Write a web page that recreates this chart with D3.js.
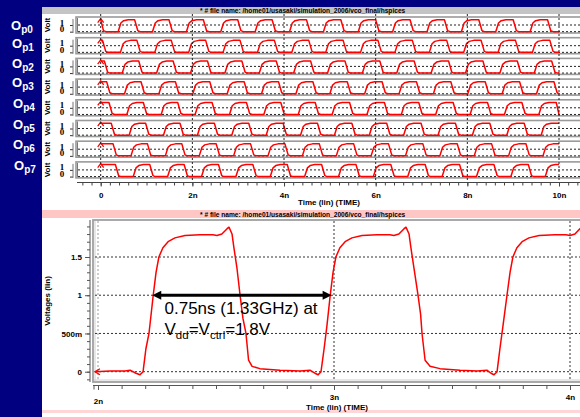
<!DOCTYPE html>
<html><head><meta charset="utf-8">
<script src="https://cdn.jsdelivr.net/npm/d3@7"></script>
<style>html,body{margin:0;padding:0;background:#000080}svg{display:block}</style>
</head><body>
<svg id="c" width="580" height="417"></svg>
<script>
// ---------- DATA ----------
const titleText = "* # file name: /home01/usasaki/simulation_2006/vco_final/hspices";
const signalNames = ["p0","p1","p2","p3","p4","p5","p6","p7"];
// rising-edge times (ns) read from each strip
const riseTimes = [
  [0.42,1.17,1.91,2.66,3.41,4.16,4.90,5.66,6.41,7.16,7.91,8.66,9.41],
  [0.47,1.22,1.96,2.71,3.46,4.21,4.95,5.71,6.46,7.21,7.96,8.71,9.46],
  [0.51,1.26,2.00,2.75,3.50,4.25,4.99,5.75,6.50,7.25,8.00,8.75,9.50],
  [0.56,1.31,2.05,2.80,3.55,4.30,5.04,5.80,6.55,7.30,8.05,8.80,9.55],
  [0.61,1.36,2.10,2.85,3.60,4.35,5.09,5.85,6.60,7.35,8.10,8.85,9.60],
  [0.66,1.41,2.15,2.90,3.65,4.40,5.14,5.90,6.65,7.40,8.15,8.90,9.65],
  [0.70,1.45,2.19,2.94,3.69,4.44,5.18,5.94,6.69,7.44,8.19,8.94,9.69],
  [0.75,1.50,2.24,2.99,3.74,4.49,5.23,5.99,6.74,7.49,8.24,8.99,9.74]
];
// falling-edge times (ns)
const fallTimes = [
  [0.03,0.78,1.53,2.28,3.03,3.78,4.53,5.28,6.04,6.79,7.54,8.29,9.04,9.79],
  [0.08,0.83,1.58,2.33,3.08,3.83,4.58,5.33,6.09,6.84,7.59,8.34,9.09,9.84],
  [0.12,0.87,1.62,2.37,3.12,3.87,4.62,5.37,6.13,6.88,7.63,8.38,9.13,9.88],
  [0.17,0.92,1.67,2.42,3.17,3.92,4.67,5.42,6.18,6.93,7.68,8.43,9.18,9.93],
  [0.22,0.97,1.72,2.47,3.22,3.97,4.72,5.47,6.23,6.98,7.73,8.48,9.23,9.98],
  [0.27,1.02,1.77,2.52,3.27,4.02,4.77,5.52,6.28,7.03,7.78,8.53,9.28],
  [0.31,1.06,1.81,2.56,3.31,4.06,4.81,5.56,6.32,7.07,7.82,8.57,9.32],
  [0.36,1.11,1.86,2.61,3.36,4.11,4.86,5.61,6.37,7.12,7.87,8.62,9.37]
];
const highLevel = 1.8;
const stripTickValues = [1, 0];
const stripTickLabels = ["1", "0"];
const topTickValues = [0, 2, 4, 6, 8, 10];
const topTickLabels = ["0", "2n", "4n", "6n", "8n", "10n"];

// lower plot: zoomed waveform (time in ns, voltage in V)
const vTime = [1.987,2.051,2.114,2.136,2.161,2.178,2.191,2.203,2.216,2.234,2.246,2.258,2.275,2.297,2.326,2.369,2.432,2.487,2.504,2.525,2.547,2.555,2.568,2.576,2.589,2.602,2.614,2.627,2.638,2.653,2.686,2.771,2.856,2.898,2.919,2.933,2.945,2.958,2.970,2.984,2.996,3.008,3.025,3.047,3.076,3.119,3.182,3.237,3.254,3.275,3.297,3.305,3.318,3.326,3.339,3.356,3.367,3.373,3.386,3.407,3.449,3.534,3.606,3.648,3.665,3.678,3.691,3.703,3.716,3.733,3.746,3.758,3.775,3.797,3.826,3.869,3.936,3.983,4.000,4.021,4.042,4.055];
const vVolt = [0.00,0.01,0.01,0.02,-0.02,-0.04,0.00,0.30,0.50,1.00,1.30,1.50,1.62,1.70,1.75,1.78,1.79,1.79,1.78,1.80,1.87,1.89,1.80,1.62,1.35,1.00,0.70,0.50,0.15,0.07,0.04,0.02,0.01,0.02,-0.02,-0.04,0.00,0.30,0.60,1.00,1.30,1.50,1.62,1.70,1.75,1.78,1.79,1.79,1.78,1.80,1.87,1.89,1.80,1.62,1.35,1.00,0.75,0.50,0.15,0.07,0.04,0.02,0.01,0.02,-0.02,-0.04,0.00,0.30,0.60,1.00,1.30,1.50,1.62,1.70,1.75,1.78,1.79,1.79,1.78,1.80,1.87,1.89];
const lowYTickValues = [0, 0.5, 1, 1.5];
const lowYTickLabels = ["0", "500m", "1", "1.5"];
const lowXTickValues = [2, 3, 4];
const lowXTickLabels = ["2n", "3n", "4n"];
const periodArrow = [2.23, 2.99]; // ns
const periodArrowLevel = 1.0;     // V
const annotLine1 = "0.75ns (1.33GHz) at";

// ---------- DRAWING ----------
const W = 580, H = 417;
const svg = d3.select("#c");
const SANS = "'Liberation Sans', Arial, sans-serif";
const NAVY = "#000080", RED = "#ff0000";

svg.append("rect").attr("width", W).attr("height", H).attr("fill", NAVY);
svg.append("rect").attr("x", 42).attr("y", 7).attr("width", W - 42).attr("height", H - 7).attr("fill", "#fff");

// ---- top panel ----
svg.append("rect").attr("x", 42).attr("y", 7).attr("width", W - 42).attr("height", 7).attr("fill", "#c4c4c4");
svg.append("text").attr("x", 200).attr("y", 13.2).attr("font-family", SANS).attr("font-weight", "bold")
  .attr("font-size", 6.6).attr("fill", "#000").text(titleText);

const xTop = d3.scaleLinear().domain([0, 10]).range([100.7, 559]);
const stripH = 16, stripTop0 = 17, stripPitch = 20.7;
const frameL = 76;
const opBaselines = [30, 47.5, 68, 87, 108, 128.5, 149, 169.5];
const opX = [11, 12, 12, 12, 13, 13, 13, 14];

function buildWave(r, f) {
  const edges = r.map(t => ({ t, up: true })).concat(f.map(t => ({ t, up: false }))).sort((a, b) => a.t - b.t);
  const pts = [[0, highLevel]];
  edges.forEach(e => {
    if (e.up) pts.push([e.t - 0.04, 0], [e.t + 0.02, 1.3], [e.t + 0.08, 1.65], [e.t + 0.18, highLevel]);
    else pts.push([e.t - 0.04, highLevel], [e.t + 0.03, 0.15], [e.t + 0.08, 0]);
  });
  const last = edges[edges.length - 1];
  const out = pts.filter(p => p[0] >= 0 && p[0] <= 10);
  out.push([10, last.up ? highLevel : 0]);
  return out;
}

signalNames.forEach((name, i) => {
  const top = stripTop0 + i * stripPitch;
  const ys = d3.scaleLinear().domain([-0.2, 2.2]).range([top + stripH, top]);
  // left labels O_pN
  const lab = svg.append("text").attr("x", opX[i]).attr("y", opBaselines[i]).attr("fill", "#fff")
    .attr("font-family", SANS).attr("font-weight", "bold").attr("font-size", 13);
  lab.append("tspan").text("O");
  lab.append("tspan").attr("font-size", 10).attr("dy", 3).text(name);
  // Volt label
  svg.append("text").attr("transform", `translate(49.5,${top + stripH / 2}) rotate(-90)`)
    .attr("text-anchor", "middle").attr("font-family", SANS).attr("font-weight", "bold")
    .attr("font-size", 8).attr("fill", "#000").text("Volt");
  // tick labels (stacked tightly, as in the original)
  stripTickValues.forEach((v, k) => {
    svg.append("text").attr("x", 62).attr("y", ys(v) + (v === 0 ? 0.3 : 0.5)).attr("text-anchor", "middle")
      .attr("font-family", "'Liberation Serif', 'Times New Roman', serif").attr("font-weight", "bold")
      .attr("font-size", 9).attr("fill", "#000").text(stripTickLabels[k]);
  });
  // small y axis
  const ax = d3.axisLeft(ys).tickValues(stripTickValues).tickSize(3).tickFormat("");
  const ag = svg.append("g").attr("transform", "translate(73,0)").call(ax);
  ag.select(".domain").remove();
  ag.selectAll("line").attr("stroke", "#333");
  svg.append("line").attr("x1", 73).attr("x2", 73).attr("y1", top + 2).attr("y2", top + stripH).attr("stroke", "#777");
  // frame
  svg.append("rect").attr("x", frameL).attr("y", top).attr("width", W - frameL + 5).attr("height", stripH)
    .attr("fill", "none").attr("stroke", "#9a9a9a").attr("stroke-width", 1.6);
  svg.append("line").attr("x1", frameL + 1.5).attr("x2", frameL + 1.5).attr("y1", top + 1).attr("y2", top + stripH - 1)
    .attr("stroke", "#555").attr("stroke-width", 0.8);
  // dotted reference lines
  stripTickValues.forEach(v => {
    svg.append("line").attr("x1", frameL + 2).attr("x2", W).attr("y1", ys(v)).attr("y2", ys(v))
      .attr("stroke", "#222").attr("stroke-width", 1).attr("stroke-dasharray", "2,2");
  });
  // waveform
  const pts = buildWave(riseTimes[i], fallTimes[i]);
  svg.append("path").attr("d", d3.line().x(d => xTop(d[0])).y(d => ys(d[1]))(pts))
    .attr("fill", "none").attr("stroke", RED).attr("stroke-width", 1.5).attr("stroke-linejoin", "round");
  // start marker
  const mx = xTop(0), my = ys(highLevel);
  svg.append("path").attr("d", `M${mx - 3},${my + 3}L${mx},${my - 1}L${mx + 3},${my + 3}`)
    .attr("fill", "none").attr("stroke", RED).attr("stroke-width", 1.3);
});

// vertical dotted grid lines (top panel)
topTickValues.forEach(t => {
  svg.append("line").attr("x1", xTop(t)).attr("x2", xTop(t)).attr("y1", 14).attr("y2", 182)
    .attr("stroke", "#222").attr("stroke-width", 1).attr("stroke-dasharray", "2,2");
});

// top x axis
const topAxisY = 182.5;
svg.append("line").attr("x1", 77).attr("x2", W).attr("y1", topAxisY).attr("y2", topAxisY).attr("stroke", "#444").attr("stroke-width", 1.2);
const topMinor = d3.range(-0.4, 10.6, 0.2);
const tmg = svg.append("g").attr("transform", `translate(0,${topAxisY})`)
  .call(d3.axisBottom(xTop).tickValues(topMinor).tickSize(3).tickFormat(""));
tmg.select(".domain").remove();
tmg.selectAll("line").attr("stroke", "#444");
const tMg = svg.append("g").attr("transform", `translate(0,${topAxisY})`)
  .call(d3.axisBottom(xTop).tickValues(topTickValues).tickSize(4).tickPadding(6).tickFormat((d, i) => topTickLabels[i]));
tMg.select(".domain").remove();
tMg.selectAll("line").attr("stroke", "#444");
tMg.selectAll("text").attr("font-family", SANS).attr("font-weight", "bold").attr("font-size", 8).attr("fill", "#000");
svg.append("text").attr("x", 329).attr("y", 205).attr("text-anchor", "middle").attr("font-family", SANS)
  .attr("font-weight", "bold").attr("font-size", 8).attr("fill", "#000").text("Time (lin) (TIME)");

// ---- lower panel ----
svg.append("rect").attr("x", 42).attr("y", 210).attr("width", W - 42).attr("height", 8).attr("fill", "#ffc6c6");
svg.append("text").attr("x", 200).attr("y", 216.5).attr("font-family", SANS).attr("font-weight", "bold")
  .attr("font-size", 6.6).attr("fill", "#000").text(titleText);
svg.append("rect").attr("x", 42).attr("y", 410).attr("width", W - 42).attr("height", 3).attr("fill", "#ffd6d6");

const xLow = d3.scaleLinear().domain([2, 4]).range([98, 570]);
const yLow = d3.scaleLinear().domain([0, 1.5]).range([371.7, 257]);
const pL = 93, pT = 220, pB = 382;

svg.append("defs").append("clipPath").attr("id", "lowclip")
  .append("rect").attr("x", pL).attr("y", pT).attr("width", W - pL).attr("height", pB - pT);

// frame
svg.append("rect").attr("x", pL).attr("y", pT).attr("width", W - pL + 5).attr("height", pB - pT)
  .attr("fill", "none").attr("stroke", "#a0a0a0").attr("stroke-width", 1.8);
svg.append("line").attr("x1", pL + 2).attr("x2", pL + 2).attr("y1", pT + 1).attr("y2", pB - 1).attr("stroke", "#cfcfcf");
svg.append("line").attr("x1", pL + 1).attr("x2", W).attr("y1", pB - 2).attr("y2", pB - 2).attr("stroke", "#cfcfcf");

// grid
lowYTickValues.forEach(v => {
  svg.append("line").attr("x1", pL + 2).attr("x2", W).attr("y1", yLow(v)).attr("y2", yLow(v))
    .attr("stroke", "#333").attr("stroke-dasharray", "2,2");
});
lowXTickValues.forEach(t => {
  svg.append("line").attr("x1", xLow(t)).attr("x2", xLow(t)).attr("y1", pT + 1).attr("y2", pB - 1)
    .attr("stroke", t === 2 ? "#999" : "#333").attr("stroke-dasharray", "2,2");
});

// y axis
const yAxX = 90;
svg.append("line").attr("x1", yAxX).attr("x2", yAxX).attr("y1", pT).attr("y2", pB).attr("stroke", "#555");
const ymin = svg.append("g").attr("transform", `translate(${yAxX},0)`)
  .call(d3.axisLeft(yLow).tickValues(d3.range(-0.1, 1.95, 0.1)).tickSize(3).tickFormat(""));
ymin.select(".domain").remove(); ymin.selectAll("line").attr("stroke", "#555");
const ymaj = svg.append("g").attr("transform", `translate(${yAxX},0)`)
  .call(d3.axisLeft(yLow).tickValues(lowYTickValues).tickSize(5).tickPadding(3).tickFormat((d, i) => lowYTickLabels[i]));
ymaj.select(".domain").remove(); ymaj.selectAll("line").attr("stroke", "#555");
ymaj.selectAll("text").attr("font-family", SANS).attr("font-weight", "bold").attr("font-size", 8).attr("fill", "#000");
svg.append("text").attr("transform", "translate(50,301) rotate(-90)").attr("text-anchor", "middle")
  .attr("font-family", SANS).attr("font-weight", "bold").attr("font-size", 8).attr("fill", "#000").text("Voltages (lin)");

// x axis
const xAxY = 385.5;
svg.append("line").attr("x1", pL).attr("x2", W).attr("y1", xAxY).attr("y2", xAxY).attr("stroke", "#555");
const xmin = svg.append("g").attr("transform", `translate(0,${xAxY})`)
  .call(d3.axisBottom(xLow).tickValues(d3.range(2.0, 4.05, 0.1)).tickSize(3.5).tickFormat(""));
xmin.select(".domain").remove(); xmin.selectAll("line").attr("stroke", "#555");
const xmaj = svg.append("g").attr("transform", `translate(0,${xAxY})`)
  .call(d3.axisBottom(xLow).tickValues(lowXTickValues).tickSize(4.5).tickPadding(4).tickFormat((d, i) => lowXTickLabels[i]));
xmaj.select(".domain").remove(); xmaj.selectAll("line").attr("stroke", "#555");
xmaj.selectAll("text").attr("font-family", SANS).attr("font-weight", "bold").attr("font-size", 8).attr("fill", "#000")
  .attr("dy", (d) => d === 2 ? "1.3em" : "0.71em");
svg.append("line").attr("x1", pL + 1).attr("x2", pL + 1).attr("y1", xAxY).attr("y2", xAxY + 4).attr("stroke", "#555");
svg.append("text").attr("x", 337).attr("y", 409.5).attr("text-anchor", "middle").attr("font-family", SANS)
  .attr("font-weight", "bold").attr("font-size", 8).attr("fill", "#000").text("Time (lin) (TIME)");

// waveform
const lowPts = vTime.map((t, i) => [t, vVolt[i]]);
svg.append("path").attr("clip-path", "url(#lowclip)")
  .attr("d", d3.line().x(d => xLow(d[0])).y(d => yLow(d[1]))(lowPts))
  .attr("fill", "none").attr("stroke", RED).attr("stroke-width", 1.5).attr("stroke-linejoin", "round");
// start marker
{
  const sx = xLow(vTime[0]), sy = yLow(vVolt[0]);
  svg.append("path").attr("d", `M${sx + 5},${sy - 3}L${sx},${sy}L${sx + 5},${sy + 3}`)
    .attr("fill", "none").attr("stroke", RED).attr("stroke-width", 1.3);
}

// period annotation arrow
{
  const ay = yLow(periodArrowLevel);
  const x1 = xLow(periodArrow[0]), x2 = xLow(periodArrow[1]);
  svg.append("line").attr("x1", x1 + 6).attr("x2", x2 - 6).attr("y1", ay).attr("y2", ay)
    .attr("stroke", "#000").attr("stroke-width", 3);
  svg.append("path").attr("d", `M${x1},${ay}L${x1 + 9},${ay - 4.5}L${x1 + 9},${ay + 4.5}Z`).attr("fill", "#000");
  svg.append("path").attr("d", `M${x2},${ay}L${x2 - 9},${ay - 4.5}L${x2 - 9},${ay + 4.5}Z`).attr("fill", "#000");
}
const ann = svg.append("g").attr("font-family", SANS).attr("fill", "#000");
ann.append("text").attr("x", 164.5).attr("y", 314).attr("font-size", 17).text(annotLine1);
const l2 = ann.append("text").attr("x", 164.5).attr("y", 335).attr("font-size", 17);
l2.append("tspan").text("V");
l2.append("tspan").attr("font-size", 11.5).attr("dy", 4).text("dd");
l2.append("tspan").attr("dy", -4).text("=V");
l2.append("tspan").attr("font-size", 11.5).attr("dy", 4).text("ctrl");
l2.append("tspan").attr("dy", -4).text("=1.8V");
</script>
</body></html>
